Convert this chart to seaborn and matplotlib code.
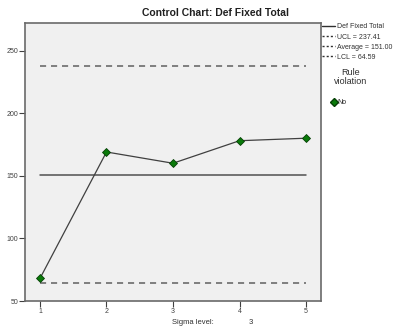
import matplotlib
matplotlib.use("Agg")
import matplotlib.pyplot as plt
from matplotlib.lines import Line2D
import seaborn as sns
import pandas as pd

# data
samples = [1, 2, 3, 4, 5]
values = [68, 169, 160, 178, 180]
ucl = 237.41
average = 151.00
lcl = 64.59
yticks = [50, 100, 150, 200, 250]
sigma_level = 3

sns.set_style("white")
plt.rcParams['font.family'] = ['Liberation Sans', 'DejaVu Sans']

fig = plt.figure(figsize=(3.96, 3.29), dpi=100)
ax = fig.add_axes([25/396, 28/329, 296/396, 278/329])
ax.set_facecolor("#f0f0f0")

df = pd.DataFrame({"sample": samples, "value": values})

ax.plot(samples, [ucl]*len(samples), color="#606060", lw=1.1, dashes=(4, 3.2))
ax.plot(samples, [lcl]*len(samples), color="#606060", lw=1.1, dashes=(4, 3.2))
ax.plot(samples, [average]*len(samples), color="#505050", lw=1.1)
sns.lineplot(data=df, x="sample", y="value", ax=ax, color="#404040", lw=0.9,
             marker="D", markersize=3.8, markerfacecolor="#0a7a0a",
             markeredgecolor="#054005", markeredgewidth=0.6, zorder=5)

ax.set_xlim(0.775, 5.225)
ax.set_ylim(50, 272)
ax.set_xticks(samples)
ax.set_yticks(yticks)
ax.tick_params(axis="both", which="both", direction="out", length=4, width=0.8,
               color="#404040", labelsize=5, labelcolor="#404040", pad=1,
               left=True, bottom=True)
ax.set_xlabel("")
ax.set_ylabel("")
for s in ax.spines.values():
    s.set_color("#6a6a6a")
    s.set_linewidth(1.2)

fig.text(215/396, 1 - 13/329, "Control Chart: Def Fixed Total", ha="center",
         va="center", fontsize=7.5, fontweight="bold", color="#202020")

fig.text(172/396, 1 - 322/329, "Sigma level:", ha="left", va="center",
         fontsize=5.5, color="#303030")
fig.text(251/396, 1 - 322/329, str(sigma_level), ha="center", va="center",
         fontsize=5.5, color="#303030")

handles = [
    Line2D([0], [0], color="#303030", lw=1),
    Line2D([0], [0], color="#303030", lw=1, dashes=(1.5, 1.5)),
    Line2D([0], [0], color="#303030", lw=1, dashes=(1.5, 1.5)),
    Line2D([0], [0], color="#303030", lw=1, dashes=(1.5, 1.5)),
]
labels = ["Def Fixed Total", f"UCL = {ucl:.2f}", f"Average = {average:.2f}",
          f"LCL = {lcl:.2f}"]
leg1 = fig.legend(handles, labels, loc="upper left",
                  bbox_to_anchor=(321/396, 1 - 22/329), frameon=False,
                  fontsize=5, handlelength=1.8, handletextpad=0.3,
                  labelspacing=0.45, borderaxespad=0, borderpad=0.2)
for t in leg1.get_texts():
    t.set_color("#303030")

fig.text(351/396, 1 - 77/329, "Rule\nviolation", ha="center", va="center",
         fontsize=6.5, color="#303030", linespacing=1.05)
h2 = [Line2D([0], [0], marker="D", color="none", markerfacecolor="#0a7a0a",
             markeredgecolor="#054005", markersize=4)]
fig.legend(h2, ["No"], loc="center left", bbox_to_anchor=(331/396, 1 - 103/329),
           frameon=False, fontsize=5, handlelength=0.8, handletextpad=0.1,
           borderaxespad=0, borderpad=0)

fig.savefig("out.png", dpi=100)
